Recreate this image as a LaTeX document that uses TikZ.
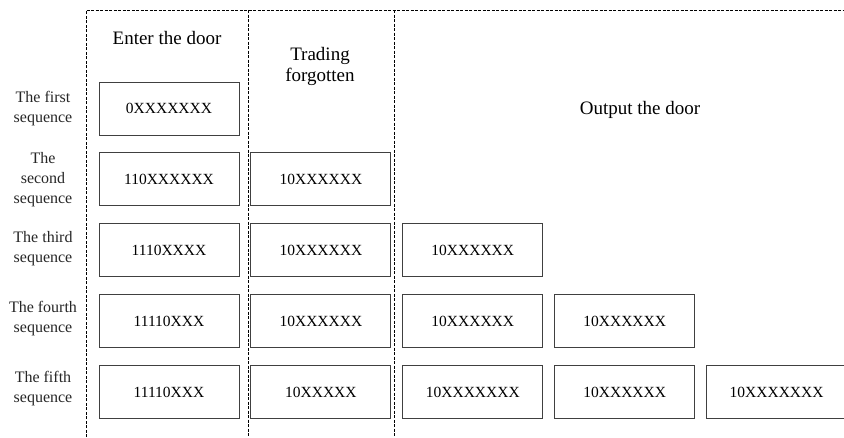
\documentclass[tikz,border=0pt]{standalone}
\usepackage{fontspec}
\setmainfont{Liberation Serif}
\usetikzlibrary{positioning}
\tikzset{
  cell/.style={draw=black!75,line width=0.9pt,minimum width=140pt,minimum height=53pt,inner sep=0pt,font=\fontsize{15.5}{18}\selectfont},
  rowlabel/.style={align=center,font=\fontsize{16}{20}\selectfont,text=black!85},
  head/.style={align=center,font=\fontsize{19}{21}\selectfont},
  divider/.style={line width=0.8pt,dash pattern=on 3pt off 1.5pt}
}
\begin{document}
\begin{tikzpicture}[x=1pt,y=-1pt,node distance=17pt and 11pt]
\useasboundingbox (0,0) rectangle (844,437);
% column dividers
\draw[divider] (86,437) -- (86,10) -- (844,10);
\draw[divider] (248,10) -- (248,437);
\draw[divider] (394,10) -- (394,437);
% headers
\node[head] (enter) at (167,38) {Enter the door};
\node[head] (trade) at (320,66) {Trading\\forgotten};
\node[head] (output) at (640,110) {Output the door};
% enter column
\node[cell] (e1) at (169,108.5) {0XXXXXXX};
\node[cell,below=of e1] (e2) {110XXXXXX};
\node[cell,below=of e2] (e3) {1110XXXX};
\node[cell,below=of e3] (e4) {11110XXX};
\node[cell,below=of e4] (e5) {11110XXX};
% trading column
\node[cell,right=of e2] (t2) {10XXXXXX};
\node[cell,right=of e3] (t3) {10XXXXXX};
\node[cell,right=of e4] (t4) {10XXXXXX};
\node[cell,right=of e5] (t5) {10XXXXX};
% output column
\node[cell,right=of t3] (o31) {10XXXXXX};
\node[cell,right=of t4] (o41) {10XXXXXX};
\node[cell,right=of o41] (o42) {10XXXXXX};
\node[cell,right=of t5] (o51) {10XXXXXXX};
\node[cell,right=of o51] (o52) {10XXXXXX};
\node[cell,right=of o52] (o53) {10XXXXXXX};
% row labels
\node[rowlabel] (s1) at (43,108.5) {The first\\sequence};
\node[rowlabel] (s2) at (43,180) {The\\second\\sequence};
\node[rowlabel] (s3) at (43,248.5) {The third\\sequence};
\node[rowlabel] (s4) at (43,318.5) {The fourth\\sequence};
\node[rowlabel] (s5) at (43,388.5) {The fifth\\sequence};
\end{tikzpicture}
\end{document}
